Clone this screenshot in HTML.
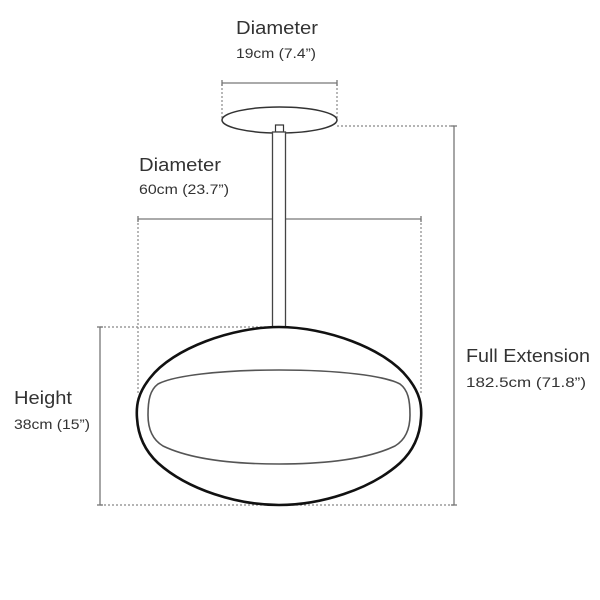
<!DOCTYPE html>
<html><head><style>
html,body{margin:0;padding:0;background:#fff;}
svg{display:block;}
text{font-family:"Liberation Sans",sans-serif;fill:#333;}
</style></head><body>
<svg width="600" height="600" viewBox="0 0 600 600">
<g stroke="#888" stroke-width="1.2" fill="none" stroke-dasharray="2,2">
<line x1="222" y1="84" x2="222" y2="120"/>
<line x1="337" y1="84" x2="337" y2="120"/>
<line x1="337" y1="126" x2="454" y2="126"/>
<line x1="138" y1="219" x2="138" y2="395"/>
<line x1="421" y1="219" x2="421" y2="395"/>
<line x1="100" y1="327" x2="270" y2="327"/>
<line x1="100" y1="505" x2="454" y2="505"/>
</g>
<g stroke="#777" stroke-width="1.3" fill="none">
<line x1="222" y1="83" x2="337" y2="83"/>
<line x1="222" y1="80" x2="222" y2="86"/><line x1="337" y1="80" x2="337" y2="86"/>
<line x1="138" y1="219" x2="421" y2="219"/>
<line x1="138" y1="216" x2="138" y2="222"/><line x1="421" y1="216" x2="421" y2="222"/>
<line x1="100" y1="327" x2="100" y2="505"/>
<line x1="97" y1="327" x2="103" y2="327"/><line x1="97" y1="505" x2="103" y2="505"/>
<line x1="454" y1="126" x2="454" y2="505"/>
<line x1="451" y1="126" x2="457" y2="126"/><line x1="451" y1="505" x2="457" y2="505"/>
</g>
<ellipse cx="279.5" cy="120" rx="57.5" ry="13" fill="#fff" stroke="#333" stroke-width="1.5"/>
<rect x="275.5" y="125" width="8" height="7" fill="#fff" stroke="#333" stroke-width="1.2"/>
<rect x="272.5" y="132" width="13" height="196" fill="#fff" stroke="#444" stroke-width="1.3"/>
<path d="M279,327 C325,327 385,348 408,378 C420,393 422,405 421,418 C420,435 414,450 400,463 C370,490 320,505 279,505 C238,505 188,490 158,463 C144,450 138,435 137,418 C136,405 138,393 150,378 C173,348 233,327 279,327 Z" fill="#fff" stroke="#111" stroke-width="2.6"/>
<path d="M279,370 C340,370 385,376 400,384 C408,390 410,400 410,415 C410,430 405,440 395,446 C370,458 330,464 279,464 C228,464 188,458 163,446 C153,440 148,430 148,415 C148,400 150,390 158,384 C173,376 218,370 279,370 Z" fill="none" stroke="#555" stroke-width="1.6"/>
<text x="236" y="34" font-size="18" textLength="82" lengthAdjust="spacingAndGlyphs">Diameter</text>
<text x="236" y="58" font-size="14" textLength="80" lengthAdjust="spacingAndGlyphs">19cm (7.4”)</text>
<text x="139" y="171" font-size="18" textLength="82" lengthAdjust="spacingAndGlyphs">Diameter</text>
<text x="139" y="194" font-size="14" textLength="90" lengthAdjust="spacingAndGlyphs">60cm (23.7”)</text>
<text x="466" y="362" font-size="18" textLength="124" lengthAdjust="spacingAndGlyphs">Full Extension</text>
<text x="466" y="387" font-size="14" textLength="120" lengthAdjust="spacingAndGlyphs">182.5cm (71.8”)</text>
<text x="14" y="404" font-size="18" textLength="58" lengthAdjust="spacingAndGlyphs">Height</text>
<text x="14" y="429" font-size="14" textLength="76" lengthAdjust="spacingAndGlyphs">38cm (15”)</text>
</svg>
</body></html>
